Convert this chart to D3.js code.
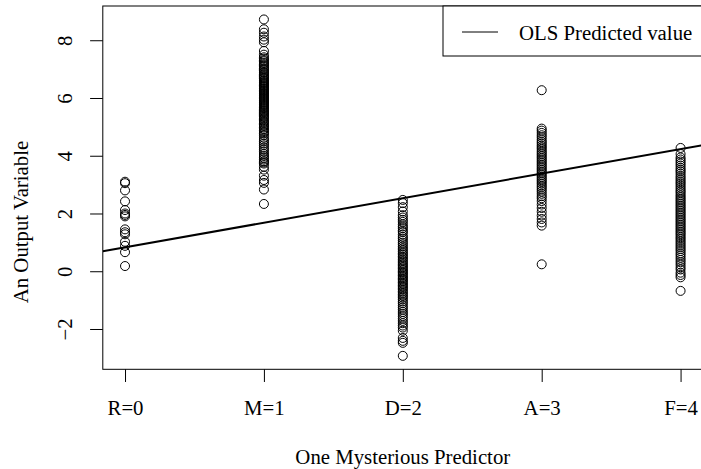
<!DOCTYPE html>
<html>
<head>
<meta charset="utf-8">
<script src="https://cdn.jsdelivr.net/npm/d3@7"></script>
<style>
  html, body { margin: 0; padding: 0; background: #fff; }
  svg { display: block; }
  text { font-family: "Liberation Serif", "Times New Roman", serif; fill: #000; }
</style>
</head>
<body>
<svg id="chart" width="701" height="469"></svg>
<script>
// Category labels along the x axis (coded 0..4)
const categories = ["R=0", "M=1", "D=2", "A=3", "F=4"];
const yTickValues = [-2, 0, 2, 4, 6, 8];

// Observed outcome values per category
const valuesR = [3.10, 3.05, 2.80, 2.42, 2.12, 2.00, 1.95, 1.90, 1.45, 1.35, 1.28, 1.02, 0.88, 0.66, 0.18];
const valuesM = [8.72, 8.38, 8.26, 8.13, 8.02, 7.93, 7.63, 7.50, 7.41, 7.36, 7.30, 7.27, 7.21, 7.16, 7.13, 7.08,
  7.02, 6.99, 6.95, 6.90, 6.87, 6.81, 6.78, 6.74, 6.70, 6.67, 6.62, 6.59, 6.55, 6.52, 6.48, 6.44, 6.41, 6.38,
  6.34, 6.31, 6.27, 6.24, 6.21, 6.17, 6.14, 6.10, 6.07, 6.03, 6.00, 5.97, 5.93, 5.90, 5.86, 5.83, 5.79, 5.76,
  5.72, 5.68, 5.65, 5.61, 5.57, 5.54, 5.50, 5.46, 5.43, 5.39, 5.35, 5.30, 5.26, 5.21, 5.17, 5.12, 5.08, 5.03,
  4.98, 4.93, 4.88, 4.82, 4.77, 4.71, 4.62, 4.55, 4.49, 4.42, 4.36, 4.28, 4.21, 4.14, 4.06, 3.99, 3.93, 3.87,
  3.81, 3.77, 3.73, 3.62, 3.52, 3.31, 3.16, 3.06, 2.83, 2.33];
const valuesD = [2.47, 2.36, 2.22, 2.07, 1.94, 1.86, 1.78, 1.71, 1.62, 1.55, 1.49, 1.41, 1.36, 1.27, 1.19, 1.13,
  1.06, 0.99, 0.93, 0.86, 0.80, 0.74, 0.68, 0.62, 0.57, 0.51, 0.46, 0.40, 0.35, 0.29, 0.24, 0.19, 0.14, 0.09,
  0.04, -0.01, -0.05, -0.10, -0.15, -0.20, -0.25, -0.29, -0.34, -0.39, -0.44, -0.49, -0.54, -0.59, -0.64, -0.70,
  -0.75, -0.81, -0.86, -0.92, -0.98, -1.05, -1.11, -1.19, -1.26, -1.33, -1.41, -1.48, -1.56, -1.64, -1.72,
  -1.80, -1.88, -1.95, -2.06, -2.31, -2.41, -2.48, -2.93];
const valuesA = [6.27, 4.94, 4.87, 4.79, 4.71, 4.64, 4.56, 4.49, 4.43, 4.36, 4.30, 4.24, 4.17, 4.11, 4.05, 3.99,
  3.93, 3.87, 3.81, 3.75, 3.69, 3.63, 3.57, 3.51, 3.45, 3.39, 3.33, 3.27, 3.21, 3.15, 3.09, 3.03, 2.96, 2.90,
  2.83, 2.76, 2.68, 2.60, 2.53, 2.43, 2.31, 2.19, 2.06, 1.93, 1.81, 1.69, 1.58, 0.24];
const valuesF = [4.27, 4.06, 3.94, 3.87, 3.80, 3.73, 3.66, 3.58, 3.51, 3.45, 3.38, 3.30, 3.23, 3.16, 3.09, 3.03,
  2.96, 2.89, 2.82, 2.76, 2.70, 2.63, 2.57, 2.51, 2.45, 2.39, 2.33, 2.27, 2.21, 2.15, 2.09, 2.03, 1.97, 1.91,
  1.85, 1.79, 1.73, 1.67, 1.61, 1.55, 1.49, 1.43, 1.37, 1.31, 1.25, 1.18, 1.12, 1.05, 0.98, 0.91, 0.84, 0.77,
  0.70, 0.62, 0.55, 0.47, 0.39, 0.31, 0.23, 0.14, 0.06, -0.05, -0.13, -0.21, -0.68];

// Fitted OLS line: y = intercept + slope * x
const olsIntercept = 0.83;
const olsSlope = 0.85;

const groups = [valuesR, valuesM, valuesD, valuesA, valuesF];
const points = groups.flatMap((vals, i) => vals.map(v => ({ x: i, y: v })));

const svg = d3.select("#chart");
const fontSize = 20.8;

const plot = { left: 102.8, right: 702.8, top: 6, bottom: 369.3 };

// Axis ranges padded by 4% on each side
function padded(lo, hi) {
  const d = (hi - lo) * 0.04;
  return [lo - d, hi + d];
}
const xDomain = padded(0, categories.length - 1);
const yDomain = padded(d3.min(points, d => d.y), d3.max(points, d => d.y));

const x = d3.scaleLinear().domain(xDomain).range([plot.left, plot.right]);
const y = d3.scaleLinear().domain(yDomain).range([plot.bottom, plot.top]);

svg.append("defs").append("clipPath").attr("id", "plotClip")
  .append("rect")
  .attr("x", plot.left).attr("y", plot.top)
  .attr("width", plot.right - plot.left).attr("height", plot.bottom - plot.top);

// Points
svg.append("g")
  .selectAll("circle")
  .data(points)
  .join("circle")
  .attr("cx", d => x(d.x))
  .attr("cy", d => y(d.y))
  .attr("r", 4.5)
  .attr("fill", "none")
  .attr("stroke", "#000")
  .attr("stroke-width", 1);

// Regression line
const line = d3.line().x(d => x(d)).y(d => y(olsIntercept + olsSlope * d));
svg.append("path")
  .attr("clip-path", "url(#plotClip)")
  .attr("d", line(xDomain))
  .attr("fill", "none")
  .attr("stroke", "#000")
  .attr("stroke-width", 2);

// X axis
const xAxis = d3.axisBottom(x)
  .tickValues(d3.range(categories.length))
  .tickFormat(i => categories[i])
  .tickSize(12.7)
  .tickSizeOuter(0)
  .tickPadding(18);
const gx = svg.append("g")
  .attr("transform", `translate(0,${plot.bottom})`)
  .call(xAxis);
gx.select(".domain").remove();
gx.selectAll("line").attr("stroke", "#000");
gx.selectAll("text").attr("font-size", fontSize).attr("font-family", "Liberation Serif").attr("fill", "#000");

// Y axis with rotated labels
const yAxis = d3.axisLeft(y)
  .tickValues(yTickValues)
  .tickFormat(d => d < 0 ? "\u2212" + Math.abs(d) : String(d))
  .tickSize(12.7)
  .tickSizeOuter(0);
const gy = svg.append("g")
  .attr("transform", `translate(${plot.left},0)`)
  .call(yAxis);
gy.select(".domain").remove();
gy.selectAll("line").attr("stroke", "#000");
gy.selectAll("text")
  .attr("font-size", fontSize)
  .attr("font-family", "Liberation Serif")
  .attr("fill", "#000")
  .attr("x", 0)
  .attr("y", -30.8)
  .attr("dy", null)
  .attr("text-anchor", "middle")
  .attr("transform", "rotate(-90)");

// Plot frame
svg.append("rect")
  .attr("x", plot.left).attr("y", plot.top)
  .attr("width", plot.right - plot.left).attr("height", plot.bottom - plot.top)
  .attr("fill", "none").attr("stroke", "#000").attr("stroke-width", 1);

// Axis titles
svg.append("text")
  .attr("x", (plot.left + plot.right) / 2)
  .attr("y", 464)
  .attr("text-anchor", "middle")
  .attr("font-size", fontSize)
  .text("One Mysterious Predictor");

svg.append("text")
  .attr("transform", `translate(27.5,222) rotate(-90)`)
  .attr("text-anchor", "middle")
  .attr("font-size", fontSize)
  .text("An Output Variable");

// Legend
const legend = svg.append("g");
legend.append("rect")
  .attr("x", 443).attr("y", plot.top)
  .attr("width", plot.right - 443).attr("height", 50)
  .attr("fill", "#fff").attr("stroke", "#000").attr("stroke-width", 1);
legend.append("line")
  .attr("x1", 462).attr("x2", 498)
  .attr("y1", 32).attr("y2", 32)
  .attr("stroke", "#000").attr("stroke-width", 1);
legend.append("text")
  .attr("x", 519).attr("y", 39.5)
  .attr("font-size", fontSize)
  .text("OLS Predicted value");
</script>
</body>
</html>
